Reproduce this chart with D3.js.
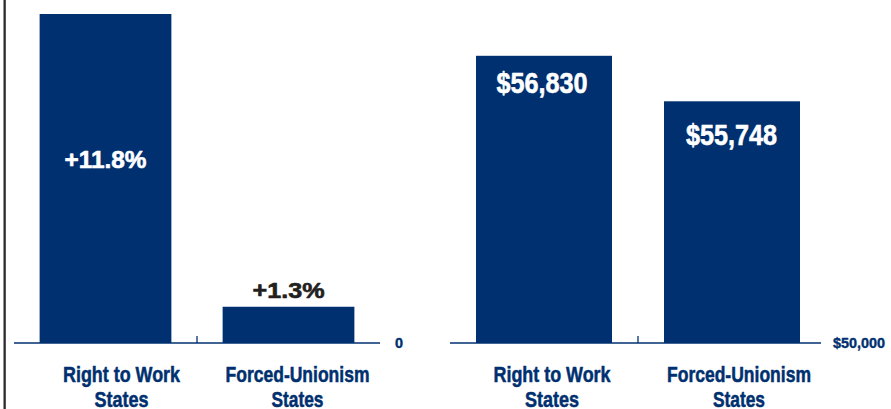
<!DOCTYPE html>
<html>
<head>
<meta charset="utf-8">
<script src="https://cdn.jsdelivr.net/npm/d3@7/dist/d3.min.js"></script>
<style>
  html, body { margin: 0; padding: 0; background: #fff; }
  svg { display: block; }
  text { font-family: "Liberation Sans Narrow", "Arial Narrow", "Liberation Sans", Arial, sans-serif; font-weight: bold; }
</style>
</head>
<body>
<svg id="chart" width="891" height="409"></svg>
<script>
// ---- data ----
const categories = ["Right to Work States", "Forced-Unionism States"];
const categoryLines = [["Right to Work", "States"], ["Forced-Unionism", "States"]];
const growthValues = [11.8, 1.3];
const growthLabels = ["+11.8%", "+1.3%"];
const incomeValues = [56830, 55748];
const incomeLabels = ["$56,830", "$55,748"];
const leftTickLabels = ["0"];
const rightTickLabels = ["$50,000"];

// ---- style ----
const NAVY = "#00306f";
const DARK = "#231f20";
const BASE = 343;

const svg = d3.select("#chart");

// left border line
svg.append("rect").attr("x", 3.5).attr("y", 0).attr("width", 2.3).attr("height", 409).attr("fill", "#2a2a2a");

function fit(sel, w, sw) {
  sel.attr("textLength", w).attr("lengthAdjust", "spacingAndGlyphs")
    .attr("stroke", sel.attr("fill")).attr("stroke-width", sw).attr("stroke-linejoin", "round");
}

function panel(opts) {
  const x = d3.scaleBand().domain(categories).range(opts.xRange)
    .paddingInner(opts.pInner).paddingOuter(opts.pOuter).align(opts.align);
  const y = d3.scaleLinear().domain(opts.yDomain).range([BASE, opts.yTop]);
  const g = svg.append("g");

  // bars
  g.selectAll("rect.bar").data(opts.values).join("rect")
    .attr("class", "bar")
    .attr("x", (d, i) => x(categories[i]))
    .attr("width", x.bandwidth())
    .attr("y", d => y(d))
    .attr("height", d => y(opts.yDomain[0]) - y(d))
    .attr("fill", NAVY);

  // baseline axis
  const axis = d3.axisBottom(x).tickSize(0).tickFormat("");
  const ag = g.append("g").attr("transform", `translate(0,${BASE})`).call(axis);
  ag.select(".domain").attr("stroke", NAVY).attr("stroke-width", 1.6)
    .attr("d", `M${opts.xRange[0]},0H${opts.axisEnd}`);
  ag.selectAll(".tick").remove();
  // middle separator tick
  const mid = (x(categories[0]) + x.bandwidth() + x(categories[1])) / 2;
  g.append("line").attr("x1", mid).attr("x2", mid).attr("y1", BASE - 7).attr("y2", BASE)
    .attr("stroke", NAVY).attr("stroke-width", 1.3);

  // tick label at base value
  g.append("text").attr("x", opts.tickX).attr("y", BASE + 4.5)
    .attr("fill", NAVY).attr("font-size", 15).text(opts.tickLabels[0])
    .call(s => fit(s, opts.tickW, 0.4));

  // category labels
  categoryLines.forEach((lines, i) => {
    const cx = x(categories[i]) + x.bandwidth() / 2 + opts.catOffset[i];
    lines.forEach((ln, j) => {
      g.append("text").attr("x", cx).attr("y", 381.8 + j * 25)
        .attr("text-anchor", "middle").attr("fill", NAVY).attr("font-size", 21.5)
        .text(ln).call(s => fit(s, opts.catW[i][j], 0.5));
    });
  });

  // value labels
  opts.values.forEach((v, i) => {
    const cx = x(categories[i]) + x.bandwidth() / 2 + opts.valOffset[i];
    const t = g.append("text").attr("x", cx).attr("y", opts.valY(y, v, i))
      .attr("text-anchor", "middle").attr("font-size", opts.valSize[i])
      .attr("fill", opts.valColor[i]).text(opts.labels[i]);
    fit(t, opts.valW[i], 0.6);
  });
}

panel({
  xRange: [14, 380], axisEnd: 380, pInner: 0.28, pOuter: 0.14, align: 0.5,
  yDomain: [0, 12], yTop: BASE - 12 * 27.88,
  values: growthValues, labels: growthLabels, tickLabels: leftTickLabels,
  tickX: 395, tickW: 8,
  catOffset: [16, 9], catW: [[117, 54], [144, 52]],
  valOffset: [0, 0], valSize: [23.5, 22], valColor: ["#ffffff", DARK], valW: [82, 72],
  valY: (y, v, i) => i === 0 ? (y(v) + y(0)) / 2 - 10.3 : y(v) - 8.3
});

panel({
  xRange: [450, 821], axisEnd: 821, pInner: 0.2766, pOuter: 0.125, align: 0.553,
  yDomain: [50000, 57000], yTop: BASE - 7000 * 0.04205,
  values: incomeValues, labels: incomeLabels, tickLabels: rightTickLabels,
  tickX: 833, tickW: 52,
  catOffset: [8, 7], catW: [[117, 54], [144, 52]],
  valOffset: [-2, -0.5], valSize: [29, 29], valColor: ["#ffffff", "#ffffff"], valW: [91, 91],
  valY: (y, v, i) => y(v) + (i === 0 ? 37.5 : 44)
});
</script>
</body>
</html>
